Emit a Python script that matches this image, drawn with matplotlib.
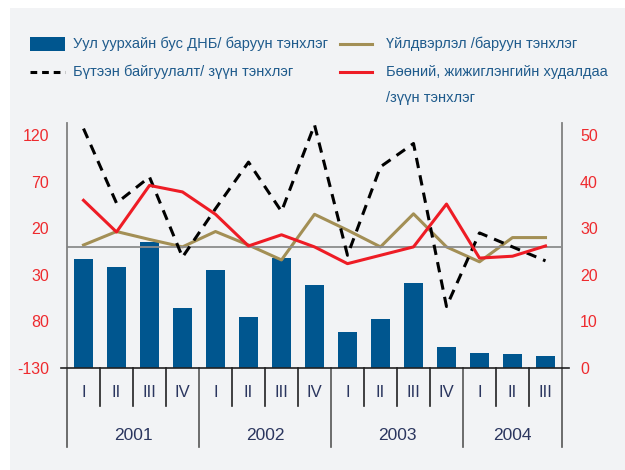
import numpy as np
import matplotlib.pyplot as plt
from matplotlib.patches import Rectangle
from matplotlib.lines import Line2D

plt.rcParams['font.family'] = ['Liberation Sans Narrow', 'Liberation Sans', 'DejaVu Sans']

quarters = ['I', 'II', 'III', 'IV', 'I', 'II', 'III', 'IV',
            'I', 'II', 'III', 'IV', 'I', 'II', 'III']
years = ['2001', '2002', '2003', '2004']
year_len = [4, 4, 4, 3]

# Уул уурхайн бус ДНБ (right axis)
gdp = [23.4, 21.7, 27.0, 12.9, 21.0, 10.9, 23.6, 17.8, 7.7, 10.5, 18.2, 4.5, 3.2, 3.0, 2.6]
# Үйлдвэрлэл (right axis)
industry = [26.4, 29.3, 27.6, 26.0, 29.3, 26.4, 23.2, 33.0, 29.6, 26.0, 33.1, 26.0, 22.8, 28.0, 28.0]
# Бүтээн байгуулалт (left axis)
construction = [127, 47, 75, -11, 41, 91, 38, 131, -9, 86, 111, -64, 15, 0, -15]
# Бөөний, жижиглэнгийн худалдаа (left axis)
trade = [50, 16, 66, 59, 35, 1, 13, 0, -18, -9, 0, 46, -12, -10, 1]

left_ticks = [120, 70, 20, -30, -80, -130]
left_labels = ['120', '70', '20', '30', '80', '-130']
right_ticks = [0, 10, 20, 30, 40, 50]

bar_c = '#00568f'
olive = '#a38f55'
red = '#ee1c25'
txt_blue = '#1f5b8c'
navy = '#2b365f'
tick_red = '#ee2a2e'

W, H = 625, 470
fig = plt.figure(figsize=(6.25, 4.7), dpi=100)
fig.patch.set_facecolor('white')
fig.add_artist(Rectangle((10 / W, 0), 1, 1 - 8 / H, transform=fig.transFigure,
                         facecolor='#f2f3f5', edgecolor='none', zorder=-10))

ax = fig.add_axes([67 / W, 1 - 368 / H, 495 / W, 245 / H])
ax.set_facecolor('none')
ax2 = ax.twinx()
ax.set_zorder(2)
ax.patch.set_visible(False)

x = np.arange(len(quarters))

# right axis: bars and industry
ax2.bar(x, gdp, width=0.58, color=bar_c, zorder=2)
ax2.plot(x, industry, color=olive, lw=2.2, zorder=3)
ax2.set_ylim(0, 52.6)
ax2.set_yticks(right_ticks)
ax2.tick_params(axis='y', length=0, pad=13, labelsize=11.5, labelcolor=tick_red)

# left axis: lines
ax.axhline(0, color='#8c8c8c', lw=1.3, zorder=1)
ax.plot(x, construction, color='black', lw=2.2, dashes=(3.4, 2.4), zorder=4)
ax.plot(x, trade, color=red, lw=2.2, zorder=5)
ax.set_ylim(-130, 133)
ax.set_xlim(-0.5, len(quarters) - 0.5)
ax.set_yticks(left_ticks)
ax.set_yticklabels(left_labels)
ax.tick_params(axis='y', length=0, pad=13, labelsize=11.5, labelcolor=tick_red)
ax.set_xticks([])

for a in (ax, ax2):
    a.spines['top'].set_visible(False)
    a.spines['left'].set_color('#808080')
    a.spines['right'].set_color('#808080')
    a.spines['left'].set_linewidth(1.3)
    a.spines['right'].set_linewidth(1.3)
    a.spines['bottom'].set_visible(False)
ax2.spines['left'].set_visible(False)
ax.spines['right'].set_visible(False)

# bottom axis line, slightly extended
ax.plot([-0.012, 1.014], [0, 0], color='#222222', lw=1.2, transform=ax.transAxes, clip_on=False, zorder=6)

# category separators and labels
tr = ax.get_xaxis_transform()
bounds = np.cumsum([0] + year_len)
for b in range(len(quarters) + 1):
    is_year = b in bounds
    ax.plot([b - 0.5, b - 0.5], [0, -0.322 if is_year else -0.155],
            color='#555555' if is_year else '#222222', lw=1.2, transform=tr, clip_on=False)
for i, q in enumerate(quarters):
    ax.text(i, -0.102, q, transform=tr, ha='center', va='center', fontsize=12, color=navy)
for k, yr in enumerate(years):
    mid = (bounds[k] + bounds[k + 1] - 1) / 2
    ax.text(mid, -0.275, yr, transform=tr, ha='center', va='center', fontsize=12.5, color=navy)

# legend
def fx(px):
    return px / W

def fy(py):
    return 1 - py / H

fig.add_artist(Rectangle((fx(30), fy(51)), 35 / W, 14 / H, transform=fig.transFigure,
                         facecolor=bar_c, edgecolor='none'))
fig.add_artist(Line2D([fx(30), fx(65)], [fy(72), fy(72)], transform=fig.transFigure,
                      color='black', lw=2.2, dashes=(2.2, 1.6)))
fig.add_artist(Line2D([fx(340), fx(372)], [fy(44), fy(44)], transform=fig.transFigure,
                      color=olive, lw=2.2))
fig.add_artist(Line2D([fx(340), fx(372)], [fy(72), fy(72)], transform=fig.transFigure,
                      color=red, lw=2.2))
leg = dict(fontsize=10.5, color=txt_blue, va='center', ha='left')
fig.text(fx(73), fy(44), 'Уул уурхайн бус ДНБ/ баруун тэнхлэг', **leg)
fig.text(fx(73), fy(72), 'Бүтээн байгуулалт/ зүүн тэнхлэг', **leg)
fig.text(fx(386), fy(44), 'Үйлдвэрлэл /баруун тэнхлэг', **leg)
fig.text(fx(386), fy(72), 'Бөөний, жижиглэнгийн худалдаа', **leg)
fig.text(fx(386), fy(98), '/зүүн тэнхлэг', **leg)

fig.savefig('out.png', dpi=100)
